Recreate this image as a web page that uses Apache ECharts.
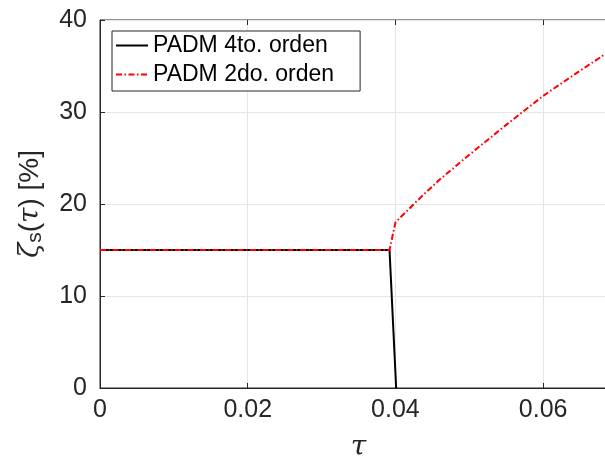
<!DOCTYPE html>
<html><head><meta charset="utf-8">
<script src="https://cdn.jsdelivr.net/npm/echarts@6/dist/echarts.min.js"></script>
<style>html,body{margin:0;padding:0;background:#fff}#c{width:605px;height:459px}</style>
</head><body><div id="c"></div>
<script>
const tau4 = [0, 0.0392, 0.0401];
const zeta4 = [15, 15, 0];
const tau2 = [0, 0.0392, 0.0400, 0.0430, 0.0460, 0.0500, 0.0550, 0.0600, 0.0640, 0.0684, 0.0700];
const zeta2 = [15, 15, 18.0, 20.4, 22.66, 25.35, 28.6, 31.75, 33.95, 36.3, 37.2];
const xTicks = [0, 0.02, 0.04, 0.06];
const yTicks = [0, 10, 20, 30, 40];
const names = ['PADM 4to. orden', 'PADM 2do. orden'];

const font = 'Liberation Sans, Arial, sans-serif';
const serif = 'DejaVu Serif, serif';
const chart = echarts.init(document.getElementById('c'), null, {renderer: 'canvas'});
const pairs = (xs, ys) => xs.map((x, i) => [x, ys[i]]);
const xFmt = v => {
  const m = xTicks.find(t => Math.abs(t - v) < 1e-9);
  return m === undefined ? '' : (m === 0 ? '0' : String(m));
};
const yFmt = v => {
  const m = yTicks.find(t => Math.abs(t - v) < 1e-9);
  return m === undefined ? '' : String(m);
};
chart.setOption({
  animation: false,
  grid: {left: 100, top: 20, right: -12, bottom: 71, containLabel: false, outerBoundsMode: 'none',
         show: true, borderColor: '#262626', borderWidth: 1},
  legend: {
    left: 112, top: 31, orient: 'vertical',
    data: names,
    backgroundColor: '#fff', borderColor: '#262626', borderWidth: 1,
    padding: [3, 26, 5, 3], itemGap: 6, itemWidth: 32, itemHeight: 14,
    itemStyle: {opacity: 0},
    textStyle: {fontFamily: font, fontSize: 23, color: '#000'}
  },
  xAxis: [{
    type: 'value', min: 0, max: 0.07, interval: 0.02,
    axisLine: {lineStyle: {color: '#262626'}},
    axisTick: {inside: true, length: 5, lineStyle: {color: '#262626'}},
    axisLabel: {formatter: xFmt, fontFamily: font, fontSize: 25, color: '#262626', margin: 10},
    splitLine: {lineStyle: {color: '#e5e5e5'}},
    name: 'τ', nameLocation: 'middle', nameGap: 46,
    nameTextStyle: {fontFamily: serif, fontStyle: 'italic', fontSize: 28, color: '#262626'}
  }, {
    type: 'value', position: 'top', min: 0, max: 0.07, interval: 0.02,
    axisLine: {show: false}, axisLabel: {show: false}, splitLine: {show: false},
    axisTick: {inside: true, length: 5, lineStyle: {color: '#262626'}}
  }],
  yAxis: {
    type: 'value', min: 0, max: 40, interval: 10,
    axisLine: {show: true, lineStyle: {color: '#262626'}},
    axisTick: {show: true, inside: true, length: 5, lineStyle: {color: '#262626'}},
    axisLabel: {formatter: yFmt, fontFamily: font, fontSize: 25, color: '#262626', margin: 13},
    splitLine: {lineStyle: {color: '#e5e5e5'}},
    name: '{i|ζ}{s|s}{n|(}{i|τ}{n|) [%]}', nameLocation: 'middle', nameGap: 54, nameRotate: 90,
    nameTextStyle: {
      color: '#262626',
      rich: {
        i: {fontFamily: serif, fontStyle: 'italic', fontSize: 28, color: '#262626'},
        s: {fontFamily: font, fontSize: 21, color: '#262626', verticalAlign: 'bottom', padding: [10, 0, 0, 0]},
        n: {fontFamily: font, fontSize: 28, color: '#262626'}
      }
    }
  },
  series: [{
    name: names[0], type: 'line', data: pairs(tau4, zeta4), symbol: 'none',
    lineStyle: {color: '#000', width: 2}, itemStyle: {color: '#000'}, z: 2
  }, {
    name: names[1], type: 'line', data: pairs(tau2, zeta2), symbol: 'none',
    lineStyle: {color: '#ff0000', width: 2, type: [6, 2.5, 1.5, 2.5]}, itemStyle: {color: '#ff0000'}, z: 3
  }]
});
</script></body></html>
